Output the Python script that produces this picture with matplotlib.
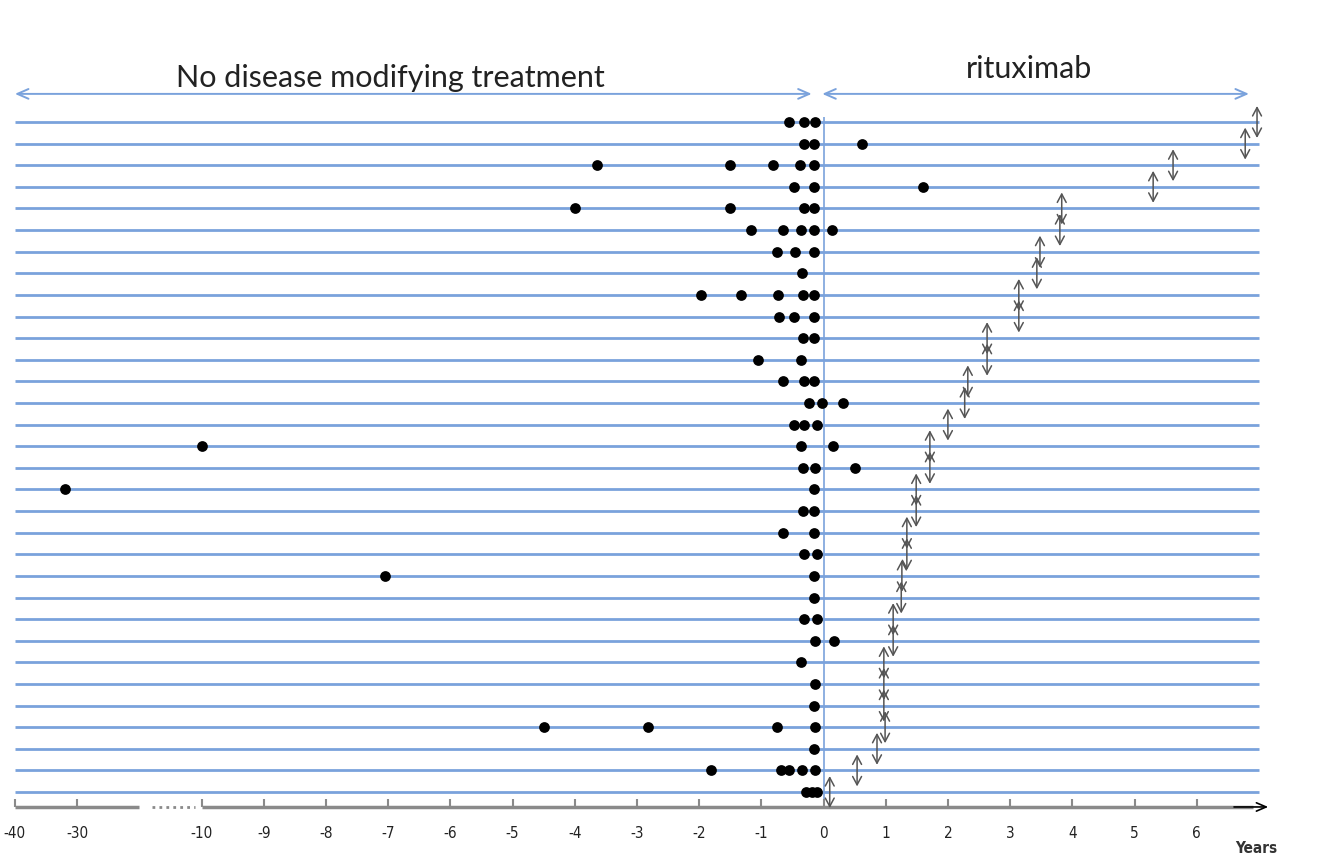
import numpy as np
import matplotlib
matplotlib.use('Agg')
import matplotlib.pyplot as plt

# events per patient (years relative to rituximab start), top row first
events = [
    [-0.55, -0.31, -0.13],
    [-0.32, -0.15, 0.62],
    [-3.64, -1.50, -0.81, -0.38, -0.15],
    [-0.48, -0.15, 1.60],
    [-4.0, -1.50, -0.32, -0.15],
    [-1.16, -0.65, -0.36, -0.15, 0.14],
    [-0.75, -0.46, -0.15],
    [-0.35],
    [-1.97, -1.32, -0.73, -0.33, -0.15],
    [-0.71, -0.48, -0.15],
    [-0.33, -0.15],
    [-1.06, -0.36],
    [-0.65, -0.32, -0.15],
    [-0.23, -0.03, 0.32],
    [-0.48, -0.32, -0.11],
    [-10.0, -0.36, 0.15],
    [-0.33, -0.13, 0.51],
    [-32.0, -0.15],
    [-0.33, -0.15],
    [-0.65, -0.15],
    [-0.32, -0.11],
    [-7.05, -0.15],
    [-0.15],
    [-0.32, -0.11],
    [-0.13, 0.17],
    [-0.36],
    [-0.13],
    [-0.15],
    [-4.49, -2.82, -0.74, -0.13],
    [-0.15],
    [-1.81, -0.69, -0.56, -0.35, -0.13],
    [-0.28, -0.19, -0.11],
]
# end of follow-up on rituximab
followup = [6.97, 6.78, 5.62, 5.30, 3.83, 3.80, 3.48, 3.43, 3.14, 3.14,
            2.63, 2.63, 2.32, 2.27, 2.00, 1.71, 1.71, 1.49, 1.49, 1.34,
            1.34, 1.26, 1.25, 1.12, 1.12, 0.97, 0.97, 0.97, 0.99, 0.86,
            0.54, 0.10]

tick_vals = [-40, -30, -10, -9, -8, -7, -6, -5, -4, -3, -2, -1, 0, 1, 2, 3, 4, 5, 6]
tick_labels = [str(t) for t in tick_vals]

blue = '#7aa2dc'
grey = '#8a8a8a'


# broken axis: below -10 years is compressed 10x
def fwd(x):
    x = np.asarray(x, dtype=float)
    return np.where(x >= -10, x, -10 + (x + 10) / 10)


def inv(u):
    u = np.asarray(u, dtype=float)
    return np.where(u >= -10, u, -10 + (u + 10) * 10)


fig = plt.figure(figsize=(13.41, 8.54), dpi=100)
ax = fig.add_axes([0, 0, 1, 1])
ax.set_xscale('function', functions=(fwd, inv))
ax.set_xlim(float(inv(-13.24)), 8.32)
nrows = len(events)
ax.set_ylim(34.82, -4.69)
for s in ax.spines.values():
    s.set_visible(False)

rows = np.arange(1, nrows + 1)
y_axis = 32.69

# patient lines
ax.hlines(rows, -40, 7.0, color=blue, lw=2, zorder=1)
ax.vlines(0, 0.77, y_axis, color=blue, lw=1.2, zorder=1)

# events
for r, ev in zip(rows, events):
    ax.scatter(ev, [r] * len(ev), s=60, color='black', zorder=3, linewidths=0)

# end of follow-up markers
for r, f in zip(rows, followup):
    ax.annotate('', xy=(f, r - 0.74), xytext=(f, r + 0.74),
                arrowprops=dict(arrowstyle='<->,head_length=0.6,head_width=0.32',
                                color='#555555', lw=1.1, shrinkA=0, shrinkB=0),
                zorder=4)

# period arrows on top
y_top = -0.3
ax.annotate('', xy=(-40, y_top), xytext=(-0.19, y_top),
            arrowprops=dict(arrowstyle='<->,head_length=0.8,head_width=0.35',
                            color=blue, lw=1.4, shrinkA=0, shrinkB=0))
ax.annotate('', xy=(-0.02, y_top), xytext=(6.84, y_top),
            arrowprops=dict(arrowstyle='<->,head_length=0.8,head_width=0.35',
                            color=blue, lw=1.4, shrinkA=0, shrinkB=0))
ax.text(-6.97, -1.1, 'No disease modifying treatment', ha='center', va='center',
        fontsize=22, family='Lato', color='#222222')
ax.text(3.3, -1.5, 'rituximab', ha='center', va='center',
        fontsize=22, family='Lato', color='#222222')

# time axis
ax.plot([-40, -20], [y_axis, y_axis], color=grey, lw=2.5, solid_capstyle='butt')
ax.plot([-18, -11], [y_axis, y_axis], color=grey, lw=2, ls=(0, (1, 1.5)))
ax.plot([-10, 6.9], [y_axis, y_axis], color=grey, lw=2.5, solid_capstyle='butt')
ax.annotate('', xy=(7.15, y_axis), xytext=(6.6, y_axis),
            arrowprops=dict(arrowstyle='->,head_length=0.7,head_width=0.3',
                            color='black', lw=1.2, shrinkA=0, shrinkB=0))

ax.spines['bottom'].set_position(('data', y_axis))
ax.xaxis.set_ticks_position('bottom')
ax.set_xticks(tick_vals)
ax.set_xticklabels(tick_labels, family='DejaVu Sans', stretch='condensed')
ax.tick_params(axis='x', direction='in', length=6, width=1.5, color=grey,
               labelsize=11, pad=13, labelcolor='#222222')
ax.set_yticks([])
ax.text(6.95, 34.55, 'Years', ha='center', va='center', fontsize=11,
        family='DejaVu Sans', stretch='condensed', fontweight='bold',
        color='#333333')

fig.savefig('out.png', dpi=100)
